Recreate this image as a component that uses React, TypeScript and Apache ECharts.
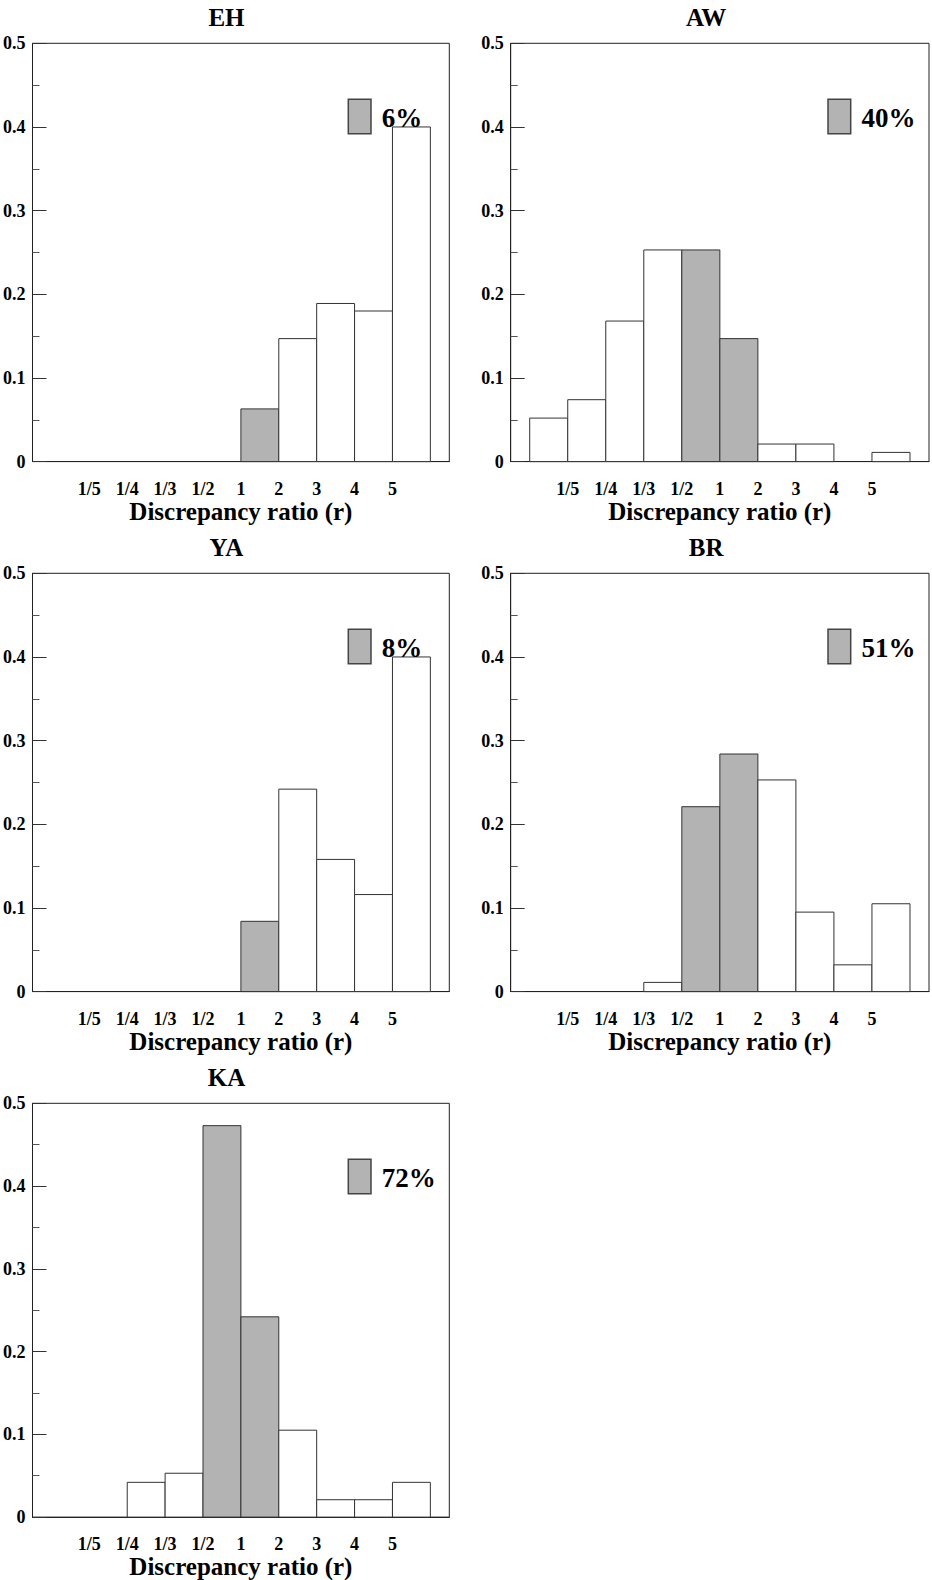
import React, { useEffect, useRef } from "react";
import * as echarts from "echarts";

// ---- data ----
const panelNames = ["EH", "AW", "YA", "BR", "KA"];
const edgeLabels = ["1/5", "1/4", "1/3", "1/2", "1", "2", "3", "4", "5"];
const ehValues = [0, 0, 0, 0, 0, 0.063, 0.147, 0.189, 0.18, 0.4];
const awValues = [0.052, 0.074, 0.168, 0.253, 0.253, 0.147, 0.021, 0.021, 0, 0.011];
const yaValues = [0, 0, 0, 0, 0, 0.084, 0.242, 0.158, 0.116, 0.4];
const brValues = [0, 0, 0, 0.011, 0.221, 0.284, 0.253, 0.095, 0.032, 0.105];
const kaValues = [0, 0, 0.042, 0.053, 0.473, 0.242, 0.105, 0.021, 0.021, 0.042];
const ehGray = [5];
const awGray = [4, 5];
const yaGray = [5];
const brGray = [4, 5];
const kaGray = [4, 5];
const withinPercent = ["6%", "40%", "8%", "51%", "72%"];
const xAxisTitle = "Discrepancy ratio (r)";

const allValues = [ehValues, awValues, yaValues, brValues, kaValues];
const allGray = [ehGray, awGray, yaGray, brGray, kaGray];

// ---- layout ----
const PLOT = 418.3;
const lefts = [31, 510.7, 31, 510.7, 31];
const tops = [43.3, 43.3, 573.3, 573.3, 1103.3];
const FONT = "'Liberation Serif', 'Times New Roman', serif";
const GRAY = "#b3b3b3";

export default function App() {
  const ref = useRef<HTMLDivElement>(null);

  useEffect(() => {
    document.body.style.margin = "0";
    const chart = echarts.init(ref.current!, undefined, { renderer: "svg" });

    const grid: any[] = [];
    const xAxis: any[] = [];
    const yAxis: any[] = [];
    const series: any[] = [];
    const graphic: any[] = [];

    panelNames.forEach((name, p) => {
      const L = lefts[p];
      const T = tops[p];
      grid.push({
        left: L,
        top: T,
        width: PLOT,
        height: PLOT,
        show: true,
        borderColor: "#222",
        borderWidth: 1,
        backgroundColor: "#fff",
      });
      xAxis.push({
        type: "value",
        gridIndex: p,
        min: -0.5,
        max: 10.5,
        interval: 0.5,
        axisLine: { show: true, onZero: false, lineStyle: { color: "#222", width: 1 } },
        axisTick: { show: false },
        splitLine: { show: false },
        axisLabel: {
          show: true,
          interval: 0,
          margin: 27,
          verticalAlign: "middle",
          fontFamily: FONT,
          fontWeight: "bold",
          fontSize: 18,
          color: "#000",
          formatter: (val: number) => {
            if (Math.abs(val - Math.round(val)) > 1e-6) return "";
            const idx = Math.round(val) - 1;
            return edgeLabels[idx] ?? "";
          },
        },
        name: xAxisTitle,
        nameLocation: "middle",
        nameGap: 41,
        nameTextStyle: {
          fontFamily: FONT,
          fontWeight: "bold",
          fontSize: 25,
          color: "#000",
          verticalAlign: "middle",
        },
      });
      yAxis.push({
        type: "value",
        gridIndex: p,
        min: 0,
        max: 0.5,
        interval: 0.1,
        axisLine: { show: true, onZero: false, lineStyle: { color: "#222", width: 1 } },
        axisTick: { show: true, inside: true, length: 14, lineStyle: { color: "#333", width: 1 } },
        minorTick: { show: true, splitNumber: 2, length: 7, lineStyle: { color: "#555", width: 1 } },
        splitLine: { show: false },
        minorSplitLine: { show: false },
        axisLabel: {
          margin: 7,
          fontFamily: FONT,
          fontWeight: "bold",
          fontSize: 18,
          color: "#000",
        },
      });
      const vals = allValues[p];
      const grays = allGray[p];
      series.push({
        type: "custom",
        xAxisIndex: p,
        yAxisIndex: p,
        data: vals.map((v, i) => [i, v, grays.includes(i) ? 1 : 0]),
        encode: { x: 0, y: 1 },
        renderItem: (params: any, api: any) => {
          const i = api.value(0);
          const v = api.value(1);
          const g = api.value(2);
          if (!(v > 0)) return null;
          const p0 = api.coord([i, v]);
          const p1 = api.coord([i + 1, 0]);
          return {
            type: "rect",
            shape: { x: p0[0], y: p0[1], width: p1[0] - p0[0], height: p1[1] - p0[1] },
            style: { fill: g ? GRAY : "#fff", stroke: "#333", lineWidth: 1 },
          };
        },
      });

      // panel title
      graphic.push({
        type: "text",
        x: L + 195.5,
        y: T - 26.1,
        z: 100,
        style: {
          text: name,
          align: "center",
          verticalAlign: "middle",
          font: `bold 25px ${FONT}`,
          fill: "#000",
        },
      });
      // legend swatch
      graphic.push({
        type: "rect",
        x: L + 317.3,
        y: T + 56,
        z: 100,
        shape: { x: 0, y: 0, width: 22.7, height: 34.4 },
        style: { fill: GRAY, stroke: "#444", lineWidth: 1.5 },
      });
      graphic.push({
        type: "text",
        x: L + 350.7,
        y: T + 74.7,
        z: 100,
        style: {
          text: withinPercent[p],
          align: "left",
          verticalAlign: "middle",
          font: `bold 27px ${FONT}`,
          fill: "#000",
        },
      });
    });

    chart.setOption({
      animation: false,
      backgroundColor: "#fff",
      grid,
      xAxis,
      yAxis,
      series,
      graphic,
    });

    return () => {
      chart.dispose();
    };
  }, []);

  return <div ref={ref} style={{ width: 932, height: 1580 }} />;
}
